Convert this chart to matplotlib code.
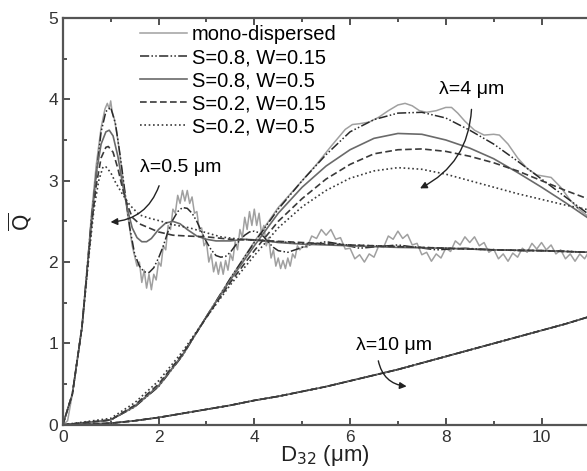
import matplotlib
matplotlib.use("Agg")
import matplotlib.pyplot as plt
from matplotlib.ticker import MultipleLocator

plt.rcParams['font.family'] = ['Liberation Sans', 'DejaVu Sans']

# legend labels
labels = ['mono-dispersed', 'S=0.8, W=0.15', 'S=0.8, W=0.5',
          'S=0.2, W=0.15', 'S=0.2, W=0.5']

# lambda = 0.5 um, mono-dispersed (with ripple)
mono05_x = [0, 0.1, 0.2, 0.3, 0.4, 0.5, 0.6, 0.7, 0.8, 0.88, 0.93, 0.97, 1.0, 1.03, 1.08,
            1.15, 1.25, 1.35, 1.45, 1.55, 1.6, 1.65, 1.7, 1.75, 1.8, 1.85, 1.9, 1.95,
            2.0, 2.05, 2.1, 2.15, 2.2, 2.25, 2.3, 2.35, 2.4, 2.45, 2.5, 2.55, 2.6, 2.65,
            2.7, 2.75, 2.8, 2.85, 2.9, 2.95, 3.0, 3.05, 3.1, 3.15, 3.2, 3.25, 3.3, 3.35,
            3.4, 3.45, 3.5, 3.55, 3.6, 3.65, 3.7, 3.75, 3.8, 3.85, 3.9, 3.95, 4.0, 4.05,
            4.1, 4.15, 4.2, 4.25, 4.3, 4.35, 4.4, 4.45, 4.5, 4.55, 4.6, 4.65, 4.7, 4.75,
            4.8, 4.85, 4.9, 4.95,
            5.0, 5.1, 5.2, 5.3, 5.4, 5.5, 5.6, 5.7, 5.8, 5.9, 6.0, 6.1, 6.2, 6.3, 6.4,
            6.5, 6.6, 6.7, 6.8, 6.9, 7.0, 7.1, 7.2, 7.3, 7.4, 7.5, 7.6, 7.7, 7.8, 7.9,
            8.0, 8.1, 8.2, 8.3, 8.4, 8.5, 8.6, 8.7, 8.8, 8.9, 9.0, 9.1, 9.2, 9.3, 9.4,
            9.5, 9.6, 9.7, 9.8, 9.9, 10.0, 10.1, 10.2, 10.3, 10.4, 10.5, 10.6, 10.7,
            10.8, 10.9, 11.0]
mono05_y = [0, 0.05, 0.38, 0.78, 1.2, 1.85, 2.6, 3.2, 3.65, 3.88, 3.95, 3.88, 3.98, 3.85, 3.75,
            3.5, 3.05, 2.6, 2.2, 1.95, 2.0, 1.75, 1.9, 1.68, 1.85, 1.66, 1.85, 1.78,
            2.0, 1.95, 2.2, 2.15, 2.45, 2.4, 2.65, 2.6, 2.82, 2.72, 2.88, 2.75, 2.88, 2.72,
            2.8, 2.6, 2.62, 2.4, 2.42, 2.2, 2.25, 2.0, 2.1, 1.88, 2.0, 1.85, 2.0, 1.85,
            2.02, 1.9, 2.1, 2.02, 2.25, 2.15, 2.4, 2.3, 2.55, 2.4, 2.62, 2.45, 2.65, 2.45,
            2.6, 2.35, 2.45, 2.2, 2.3, 2.05, 2.15, 1.95, 2.05, 1.92, 2.02, 1.92, 2.05, 1.95,
            2.1, 2.05, 2.2, 2.15,
            2.19, 2.18, 2.32, 2.29, 2.40, 2.33, 2.40, 2.28, 2.30, 2.16, 2.17, 2.04, 2.09,
            2.00, 2.10, 2.06, 2.20, 2.18, 2.32, 2.28, 2.38, 2.29, 2.34, 2.21, 2.23, 2.09,
            2.12, 2.01, 2.10, 2.05, 2.17, 2.13, 2.26, 2.21, 2.31, 2.24, 2.31, 2.20, 2.24,
            2.12, 2.16, 2.04, 2.10, 2.01, 2.11, 2.06, 2.17, 2.12, 2.23, 2.16, 2.24, 2.15,
            2.21, 2.10, 2.15, 2.04, 2.10, 2.01, 2.10, 2.04, 2.14]

# lambda = 0.5 um, S=0.8, W=0.15
s08w015_05_x = [0, 0.2, 0.4, 0.6, 0.8, 0.9, 1.0, 1.1, 1.2, 1.3, 1.4, 1.5, 1.6, 1.7, 1.8, 1.9,
                2.0, 2.1, 2.2, 2.3, 2.4, 2.5, 2.6, 2.7, 2.8, 2.9, 3.0, 3.1, 3.2, 3.3, 3.4,
                3.5, 3.6, 3.7, 3.8, 3.9, 4.0, 4.1, 4.2, 4.3, 4.4, 4.5, 4.7, 4.9, 5.2, 5.5,
                5.8, 6.2, 6.6, 7.0, 7.4, 7.8, 8.4, 9.0, 9.6, 10.2, 11.0]
s08w015_05_y = [0, 0.38, 1.2, 2.55, 3.6, 3.85, 3.9, 3.7, 3.3, 2.85, 2.42, 2.1, 1.95, 1.88, 1.87,
                1.93, 2.05, 2.2, 2.38, 2.52, 2.62, 2.67, 2.66, 2.6, 2.5, 2.37, 2.25, 2.15, 2.08,
                2.06, 2.07, 2.12, 2.2, 2.27, 2.33, 2.37, 2.38, 2.36, 2.31, 2.24, 2.18, 2.14,
                2.12, 2.16, 2.22, 2.25, 2.22, 2.17, 2.19, 2.21, 2.18, 2.15, 2.17, 2.15, 2.14,
                2.14, 2.12]

# lambda = 0.5 um, S=0.8, W=0.5
s08w05_05_x = [0, 0.2, 0.4, 0.6, 0.7, 0.8, 0.9, 0.97, 1.05, 1.15, 1.25, 1.35, 1.45, 1.55,
               1.65, 1.75, 1.85, 2.0, 2.15, 2.3, 2.45, 2.6, 2.8, 3.0, 3.2, 3.5, 3.8, 4.1,
               4.5, 5.0, 6.0, 7.0, 8.0, 9.0, 10.0, 11.0]
s08w05_05_y = [0, 0.38, 1.2, 2.5, 3.1, 3.45, 3.6, 3.62, 3.55, 3.3, 2.95, 2.65, 2.42, 2.3,
               2.25, 2.25, 2.29, 2.4, 2.48, 2.5, 2.47, 2.4, 2.32, 2.28, 2.26, 2.26, 2.28, 2.27,
               2.24, 2.22, 2.2, 2.18, 2.17, 2.15, 2.14, 2.12]

# lambda = 0.5 um, S=0.2, W=0.15
s02w015_05_x = [0, 0.2, 0.4, 0.6, 0.7, 0.8, 0.9, 0.95, 1.05, 1.15, 1.25, 1.35, 1.45, 1.6,
                1.8, 2.0, 2.3, 2.6, 3.0, 3.5, 4.0, 5.0, 6.0, 7.0, 8.0, 9.0, 10.0, 11.0]
s02w015_05_y = [0, 0.38, 1.2, 2.45, 2.95, 3.28, 3.41, 3.42, 3.35, 3.15, 2.9, 2.7, 2.55, 2.47,
                2.42, 2.37, 2.33, 2.32, 2.31, 2.28, 2.27, 2.24, 2.21, 2.19, 2.17, 2.15, 2.14,
                2.12]

# lambda = 0.5 um, S=0.2, W=0.5
s02w05_05_x = [0, 0.2, 0.4, 0.55, 0.65, 0.75, 0.84, 0.9, 1.0, 1.1, 1.25, 1.4, 1.6, 1.8,
               2.0, 2.3, 2.65, 3.0, 3.3, 3.7, 4.0, 4.5, 5.0, 6.0, 7.0, 8.0, 9.0, 10.0, 11.0]
s02w05_05_y = [0, 0.38, 1.2, 2.1, 2.65, 3.0, 3.17, 3.17, 3.1, 2.98, 2.83, 2.7, 2.58, 2.54,
               2.51, 2.46, 2.42, 2.36, 2.31, 2.28, 2.27, 2.25, 2.23, 2.21, 2.19, 2.17, 2.15,
               2.14, 2.12]

# lambda = 4 um
mono4_x = [0, 0.5, 1.0, 1.5, 2.0, 2.5, 3.0, 3.5, 4.0, 4.5, 5.0, 5.3, 5.6, 5.9, 6.05, 6.2,
           6.4, 6.6, 6.8, 7.0, 7.15, 7.3, 7.45, 7.6, 7.8, 8.0, 8.12, 8.25, 8.4, 8.6, 8.8,
           9.0, 9.12, 9.3, 9.5, 9.7, 9.9, 10.1, 10.2, 10.4, 10.6, 10.8, 11.0]
mono4_y = [0, 0.01, 0.06, 0.22, 0.47, 0.85, 1.33, 1.8, 2.25, 2.67, 3.0, 3.2, 3.42, 3.63, 3.69,
           3.7, 3.72, 3.78, 3.86, 3.93, 3.95, 3.92, 3.86, 3.84, 3.86, 3.9, 3.9, 3.83, 3.73,
           3.62, 3.56, 3.57, 3.56, 3.45, 3.28, 3.15, 3.07, 3.05, 3.04, 2.92, 2.76, 2.64,
           2.55]

poly4_x = [0, 1.0, 1.5, 2.0, 2.5, 3.0, 3.5, 4.0, 4.5, 5.0, 5.5, 6.0, 6.5, 7.0, 7.5, 8.0,
           8.5, 9.0, 9.5, 10.0, 10.5, 11.0]
s08w015_4_y = [0, 0.06, 0.22, 0.47, 0.85, 1.33, 1.8, 2.24, 2.65, 3.0, 3.32, 3.6, 3.75, 3.83,
               3.84, 3.77, 3.62, 3.45, 3.24, 3.02, 2.8, 2.58]
s08w05_4_y = [0, 0.06, 0.23, 0.48, 0.86, 1.33, 1.78, 2.2, 2.6, 2.92, 3.18, 3.38, 3.52, 3.58,
              3.57, 3.5, 3.4, 3.27, 3.1, 2.92, 2.73, 2.53]
s02w015_4_y = [0, 0.06, 0.24, 0.5, 0.87, 1.32, 1.75, 2.14, 2.5, 2.78, 3.02, 3.2, 3.33, 3.38,
               3.39, 3.36, 3.3, 3.22, 3.12, 3.0, 2.88, 2.77]
s02w05_4_y = [0, 0.08, 0.27, 0.54, 0.9, 1.32, 1.72, 2.08, 2.42, 2.68, 2.88, 3.03, 3.12, 3.16,
              3.14, 3.08, 3.0, 2.92, 2.84, 2.77, 2.7, 2.64]

# lambda = 10 um (all curves on top of each other)
d10_x = [0, 0.5, 1, 1.5, 2, 2.5, 3, 3.5, 4, 4.5, 5, 5.5, 6, 6.5, 7, 7.5, 8, 8.5, 9, 9.5,
         10, 10.5, 11]
q10_y = [0, 0.005, 0.02, 0.05, 0.09, 0.14, 0.19, 0.24, 0.3, 0.35, 0.41, 0.47, 0.54, 0.61,
         0.68, 0.76, 0.84, 0.92, 1.0, 1.08, 1.16, 1.24, 1.33]

# line styles for the five cases
styles = [
    dict(color='#a0a0a0', lw=1.1, ls='-'),
    dict(color='#2a2a2a', lw=1.1, ls=(0, (6, 1.5, 1, 1.5, 1, 1.5))),
    dict(color='#6a6a6a', lw=1.2, ls='-'),
    dict(color='#3a3a3a', lw=1.2, ls=(0, (4, 2))),
    dict(color='#3a3a3a', lw=1.2, ls=(0, (1, 1.6))),
]

fig = plt.figure(figsize=(5.87, 4.71), dpi=100)
ax = fig.add_axes([0.107, 0.098, 0.893, 0.864])

curves05 = [(mono05_x, mono05_y), (s08w015_05_x, s08w015_05_y),
            (s08w05_05_x, s08w05_05_y), (s02w015_05_x, s02w015_05_y),
            (s02w05_05_x, s02w05_05_y)]
curves4 = [(mono4_x, mono4_y), (poly4_x, s08w015_4_y), (poly4_x, s08w05_4_y),
           (poly4_x, s02w015_4_y), (poly4_x, s02w05_4_y)]

for i in range(5):
    ax.plot(d10_x, q10_y, **styles[i])
    ax.plot(curves4[i][0], curves4[i][1], **styles[i])
    ax.plot(curves05[i][0], curves05[i][1], label=labels[i], **styles[i])

# axes setup
ax.set_xlim(0, 10.95)
ax.set_ylim(0, 5)
ax.xaxis.set_major_locator(MultipleLocator(2))
ax.xaxis.set_minor_locator(MultipleLocator(1))
ax.yaxis.set_major_locator(MultipleLocator(1))
ax.yaxis.set_minor_locator(MultipleLocator(0.5))
ax.tick_params(which='both', direction='in', top=True, right=False,
               colors='#333333', labelsize=12.5, width=1.2)
ax.tick_params(which='major', length=5)
ax.tick_params(which='minor', length=3)
for side in ['left', 'bottom', 'top']:
    ax.spines[side].set_color('#555555')
    ax.spines[side].set_linewidth(1.6)
ax.spines['right'].set_visible(False)

ax.set_xlabel('D$_{32}$ (\u03bcm)', fontsize=16, color='#222222', labelpad=-1)
ax.set_ylabel(r'$\overline{\mathrm{Q}}$', fontsize=15, color='#222222', labelpad=10)

ax.legend(loc='upper left', bbox_to_anchor=(0.125, 1.012), frameon=False,
          fontsize=14.5, handlelength=2.3, labelspacing=0.2, handletextpad=0.25,
          borderaxespad=0.2)

# wavelength labels with curved arrows
arrow = dict(arrowstyle='-|>', color='#222222', lw=1.0, mutation_scale=10)
ax.text(2.47, 3.16, '\u03bb=0.5 \u03bcm', fontsize=14, ha='center', va='center')
ax.annotate('', xy=(0.94, 2.49), xytext=(2.03, 2.97),
            arrowprops=dict(connectionstyle='arc3,rad=-0.35', **arrow))
ax.text(8.54, 4.12, '\u03bb=4 \u03bcm', fontsize=14, ha='center', va='center')
ax.annotate('', xy=(7.41, 2.89), xytext=(8.54, 3.91),
            arrowprops=dict(connectionstyle='arc3,rad=-0.3', **arrow))
ax.text(6.91, 0.98, '\u03bb=10 \u03bcm', fontsize=14, ha='center', va='center')
ax.annotate('', xy=(7.24, 0.47), xytext=(6.58, 0.82),
            arrowprops=dict(connectionstyle='arc3,rad=0.4', **arrow))

fig.savefig('out.png', dpi=100)
